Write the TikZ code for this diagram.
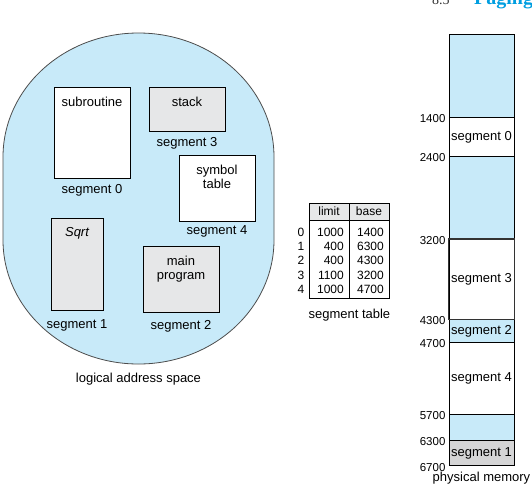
\documentclass[tikz,border=0pt]{standalone}
\usepackage{fontspec}
\setmainfont{Liberation Sans}
\newfontfamily\hdfont{Liberation Serif}
\usetikzlibrary{positioning}
\definecolor{memblue}{RGB}{200,234,249}
\definecolor{memgray}{RGB}{230,231,232}
\definecolor{darkmem}{RGB}{213,213,214}
\definecolor{hdblue}{RGB}{0,158,224}
\begin{document}
\begin{tikzpicture}[x=1pt,y=-1pt,font=\fontsize{13}{14}\selectfont]
  \tikzstyle{w}=[draw,fill=white,inner sep=0,line width=0.8pt]
  \tikzstyle{g}=[draw,fill=memgray,inner sep=0,line width=0.8pt]
  \tikzstyle{t}=[inner sep=0,align=center]
  \tikzstyle{m}=[draw,minimum width=65pt,inner sep=0,anchor=north,line width=0.8pt]
  \tikzstyle{a}=[anchor=east,inner sep=3pt,yshift=-1.5pt,font=\fontsize{11.5}{13}\selectfont]
  \tikzstyle{tab}=[inner sep=0,font=\fontsize{12}{14}\selectfont]
  \tikzstyle{cell}=[draw,minimum width=40pt,inner sep=0,line width=0.8pt]

  \useasboundingbox (0,0) rectangle (532,496);

  % running head, cut off at the top
  \node[anchor=base west,inner sep=0,text=black!80] (hdnum) at (432,4) {\hdfont\fontsize{14}{14}\selectfont 8.5};
  \node[anchor=base west,inner sep=0,text=hdblue] (hdtitle) at (474,4) {\hdfont\bfseries\fontsize{20}{20}\selectfont Paging};

  % logical address space
  \draw[fill=memblue,draw=black!70,line width=0.8pt] (3,157)
    arc[start angle=180,end angle=360,x radius=135.5,y radius=124] -- (274,240)
    arc[start angle=0,end angle=180,x radius=135.5,y radius=124] -- cycle;

  \node[w,minimum width=76pt,minimum height=91pt,label={[label distance=2pt]below:segment 0}] (sub) at (92,132.5) {};
  \node[t,below=10pt of sub.north] (subtxt) {subroutine};
  \node[g,minimum width=76pt,minimum height=44pt,label={[label distance=2pt]below:segment 3}] (stack) at (187,109) {};
  \node[t,below=10pt of stack.north] (stacktxt) {stack};
  \node[w,minimum width=76pt,minimum height=66pt,label={[label distance=1pt]below:segment 4}] (symtab) at (217,188) {};
  \node[t,below=10pt of symtab.north] (symtxt) {symbol\\table};
  \node[g,minimum width=52pt,minimum height=92pt,label={[label distance=6pt]below:segment 1}] (sqrt) at (77,264) {};
  \node[t,below=10pt of sqrt.north] (sqrttxt) {\itshape Sqrt};
  \node[g,minimum width=76pt,minimum height=66pt,label={[label distance=4pt]below:segment 2}] (mainp) at (181,279) {};
  \node[t,below=10pt of mainp.north] (maintxt) {main\\program};

  \node (lasp) at (138.5,379) {logical address space};

  % segment table
  \node[cell,fill=memgray,minimum height=17pt,tab] (limhd) at (329,211.5) {limit};
  \node[cell,fill=memgray,minimum height=17pt,tab] (basehd) at (369,211.5) {base};
  \node[cell,minimum height=78pt] (limcol) at (329,259) {};
  \node[cell,minimum height=78pt] (basecol) at (369,259) {};
  \foreach \i/\l/\b in {0/1000/1400,1/400/6300,2/400/4300,3/1100/3200,4/1000/4700}{
    \node[tab] (row\i) at (301,{232+14.3*\i}) {\i};
    \node[tab,anchor=east] (lim\i) at (344,{232+14.3*\i}) {\l};
    \node[tab,anchor=east] (base\i) at (384,{232+14.3*\i}) {\b};
  }
  \node[below=7pt of limcol.south east] (segtab) {segment table};

  % physical memory
  \foreach \top/\h/\c/\txt [count=\k] in {34/83/memblue/,117/39/white/segment 0,156/83/memblue/,
      239/80/white/segment 3,319/23/memblue/segment 2,342/72/white/segment 4,414/26/memblue/,440/25/darkmem/segment 1}
    \node[m,fill=\c,minimum height=\h pt] (m\k) at (481.5,\top) {\txt};
  \draw[line width=1.2pt,black!80] (m4.north west) rectangle (m4.south east);
  \foreach \k/\v in {2/1400,3/2400,4/3200,5/4300,6/4700,7/5700,8/6300}
    \node[a] (addr\v) at (m\k.north west) {\v};
  \node[a] (addr6700) at (m8.south west) {6700};
  \node[below=3pt of m8.south] (pmem) {physical memory};
\end{tikzpicture}
\end{document}
